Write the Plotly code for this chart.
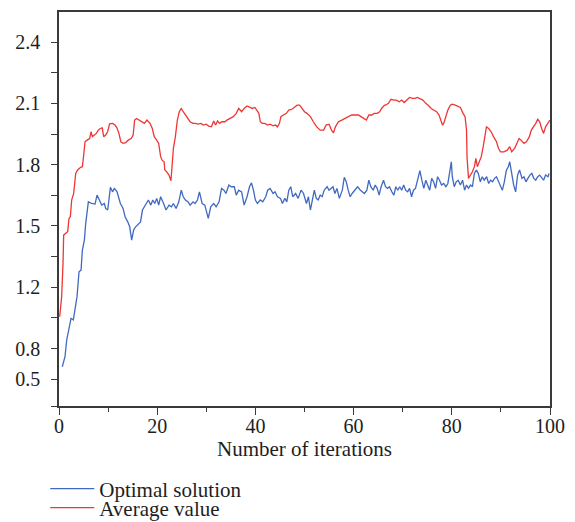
import plotly.graph_objects as go

# ---- data ----
opt_x = [0.67, 1.22, 1.57, 2.04, 2.45, 2.92, 3.4, 3.67, 4.08, 4.49, 4.76, 5.17, 5.44, 5.71, 5.98,
         6.66, 7.34, 7.75, 8.15, 8.7, 9.24, 9.5, 9.92, 10.47, 10.9, 11.28, 11.82, 12.5, 13.05, 13.46,
         14.0, 14.4, 14.8, 15.2, 15.6, 16.0, 16.6, 17.0, 17.2, 17.7, 18.2, 18.7, 19.1, 19.5, 19.9,
         20.3, 20.7, 21.3, 21.8, 22.4, 22.9, 23.3, 23.85, 24.4, 24.9, 25.3, 25.75, 26.3, 26.7, 27.3,
         27.7, 28.2, 28.6, 29.15, 29.7, 30.4, 30.9, 31.5, 32.0, 32.6, 33.1, 33.6, 34.0, 34.6, 35.1,
         35.7, 36.1, 36.6, 37.2, 37.7, 38.3, 38.8, 39.2, 39.6, 40.0, 40.4, 41.0, 41.5, 42.1, 42.5,
         43.0, 43.6, 44.0, 44.5, 45.1, 45.5, 46.0, 46.4, 46.8, 47.2, 47.6, 48.2, 48.7, 49.3, 49.8,
         50.4, 50.8, 51.2, 51.6, 52.0, 52.4, 52.8, 53.2, 53.6, 54.0, 54.6, 55.0, 55.4, 55.8, 56.2,
         56.6, 57.1, 57.7, 58.1, 58.5, 58.9, 59.3, 59.7, 60.3, 60.8, 61.4, 61.8, 62.2, 62.7, 63.1,
         63.5, 64.0, 64.4, 64.8, 65.2, 65.6, 66.1, 66.5, 66.9, 67.3, 67.8, 68.2, 68.6, 69.0, 69.4,
         69.8, 70.2, 70.6, 71.0, 71.4, 71.8, 72.2, 72.6, 73.0, 73.5, 73.9, 74.3, 74.7, 75.1, 75.5,
         75.9, 76.3, 76.7, 77.1, 77.5, 77.9, 78.35, 78.8, 79.2, 79.6, 79.9, 80.1, 80.5, 80.9, 81.3,
         81.75, 82.2, 82.6, 83.0, 83.4, 83.8, 84.2, 84.6, 85.0, 85.4, 85.8, 86.2, 86.6, 87.1, 87.5,
         87.9, 88.3, 88.7, 89.1, 89.5, 89.9, 90.3, 90.7, 91.1, 91.5, 91.8, 92.2, 92.6, 93.0, 93.4,
         93.8, 94.3, 94.7, 95.1, 95.5, 95.9, 96.3, 96.7, 97.1, 97.5, 97.9, 98.3, 98.7, 99.1, 99.6, 99.8]
opt_y = [0.811, 0.860, 0.942, 0.991, 1.048, 1.040, 1.105, 1.154, 1.276, 1.284, 1.382, 1.431, 1.513, 1.578, 1.618,
         1.610, 1.607, 1.651, 1.627, 1.602, 1.610, 1.586, 1.578, 1.689, 1.667, 1.684, 1.667, 1.610, 1.586, 1.545,
         1.520, 1.496, 1.431, 1.480, 1.496, 1.504, 1.520, 1.578, 1.586, 1.602, 1.627, 1.602, 1.627, 1.610, 1.635,
         1.602, 1.643, 1.610, 1.578, 1.602, 1.594, 1.610, 1.586, 1.618, 1.675, 1.643, 1.627, 1.618, 1.602, 1.618,
         1.610, 1.627, 1.667, 1.610, 1.602, 1.537, 1.594, 1.610, 1.594, 1.618, 1.684, 1.675, 1.659, 1.700, 1.692,
         1.692, 1.651, 1.675, 1.667, 1.602, 1.643, 1.692, 1.711, 1.675, 1.627, 1.610, 1.627, 1.618, 1.643, 1.675,
         1.684, 1.659, 1.667, 1.643, 1.635, 1.610, 1.635, 1.618, 1.675, 1.692, 1.643, 1.659, 1.635, 1.675, 1.659,
         1.610, 1.643, 1.578, 1.627, 1.675, 1.635, 1.627, 1.651, 1.643, 1.675, 1.692, 1.675, 1.684, 1.692, 1.659,
         1.684, 1.635, 1.675, 1.738, 1.716, 1.675, 1.643, 1.659, 1.675, 1.692, 1.675, 1.667, 1.659, 1.675, 1.724,
         1.692, 1.675, 1.700, 1.684, 1.651, 1.692, 1.724, 1.692, 1.684, 1.692, 1.667, 1.651, 1.692, 1.675, 1.692,
         1.675, 1.700, 1.675, 1.667, 1.684, 1.643, 1.675, 1.684, 1.724, 1.771, 1.724, 1.684, 1.724, 1.700, 1.675,
         1.733, 1.716, 1.684, 1.741, 1.724, 1.700, 1.708, 1.692, 1.708, 1.782, 1.814, 1.741, 1.692, 1.716, 1.724,
         1.700, 1.724, 1.675, 1.700, 1.684, 1.700, 1.692, 1.757, 1.774, 1.757, 1.716, 1.741, 1.724, 1.741, 1.708,
         1.724, 1.716, 1.733, 1.741, 1.716, 1.692, 1.675, 1.716, 1.771, 1.790, 1.814, 1.757, 1.700, 1.667, 1.749,
         1.774, 1.733, 1.741, 1.716, 1.733, 1.749, 1.757, 1.733, 1.724, 1.741, 1.749, 1.733, 1.724, 1.749, 1.741, 1.757]

avg_x = [0.14, 0.54, 0.82, 0.95, 1.36, 1.77, 2.04, 2.31, 2.58, 2.99, 3.4, 3.8, 4.35, 4.76, 5.03,
         5.3, 5.71, 6.25, 6.52, 6.8, 7.2, 7.6, 8.0, 8.4, 8.8, 9.1, 9.5, 9.9, 10.3, 10.9,
         11.4, 11.8, 12.2, 12.6, 13.05, 13.6, 14.1, 14.7, 15.1, 15.4, 15.8, 16.3, 16.9, 17.4, 17.9,
         18.55, 19.0, 19.4, 19.9, 20.3, 20.7, 21.0, 21.4, 21.55, 21.95, 22.4, 22.8, 23.0, 23.3, 23.7,
         24.1, 24.5, 24.9, 25.3, 25.75, 26.2, 26.7, 27.3, 27.8, 28.3, 28.9, 29.4, 30.0, 30.5, 31.05,
         31.5, 31.9, 32.3, 32.7, 33.2, 33.8, 34.2, 34.9, 35.5, 36.1, 36.6, 37.2, 37.7, 38.3, 38.8,
         39.35, 39.9, 40.3, 40.7, 41.0, 41.4, 41.9, 42.5, 43.0, 43.6, 44.1, 44.5, 44.9, 45.2, 45.7,
         46.3, 46.8, 47.4, 47.9, 48.5, 49.0, 49.5, 50.0, 50.5, 51.2, 51.8, 52.5, 53.2, 53.9, 54.4,
         55.0, 55.5, 55.9, 56.3, 56.9, 57.6, 58.2, 58.9, 59.6, 60.3, 61.0, 61.5, 62.1, 62.6, 63.1,
         63.7, 64.2, 64.8, 65.3, 65.7, 66.3, 66.5, 67.1, 67.6, 68.2, 68.7, 69.3, 69.8, 70.3, 70.9,
         71.4, 72.0, 72.5, 73.0, 73.6, 74.1, 74.7, 75.2, 75.8, 76.3, 76.9, 77.4, 77.8, 78.1, 78.35,
         78.8, 79.2, 79.7, 80.1, 80.7, 81.2, 81.75, 82.3, 82.7, 83.0, 83.1, 83.4, 83.8, 84.2, 84.6,
         84.9, 85.2, 85.6, 86.0, 86.4, 86.8, 87.05, 87.5, 88.0, 88.5, 89.1, 89.5, 89.9, 90.6, 91.3,
         91.8, 92.2, 92.8, 93.3, 93.7, 94.1, 94.7, 95.2, 95.8, 96.2, 96.7, 97.1, 97.5, 97.9, 98.3,
         98.7, 99.1, 99.6, 100.0]
avg_y = [1.056, 1.154, 1.317, 1.455, 1.464, 1.472, 1.537, 1.545, 1.627, 1.659, 1.757, 1.774, 1.786, 1.790, 1.847,
         1.912, 1.920, 1.928, 1.961, 1.937, 1.945, 1.953, 1.969, 1.977, 1.980, 1.937, 1.945, 1.961, 2.000, 2.002,
         1.994, 1.980, 1.953, 1.912, 1.904, 1.908, 1.920, 1.928, 1.945, 2.018, 2.026, 2.018, 2.010, 2.002, 2.018,
         2.002, 1.977, 1.937, 1.920, 1.904, 1.839, 1.822, 1.814, 1.774, 1.765, 1.749, 1.721, 1.790, 1.880, 1.937,
         2.018, 2.059, 2.075, 2.059, 2.043, 2.026, 2.010, 2.002, 2.002, 1.998, 2.002, 1.994, 1.998, 1.988, 1.985,
         2.014, 1.994, 2.014, 2.002, 2.010, 2.010, 2.018, 2.026, 2.035, 2.051, 2.075, 2.059, 2.075, 2.087, 2.080,
         2.075, 2.080, 2.067, 2.051, 2.010, 2.002, 2.002, 1.994, 1.998, 1.990, 1.994, 1.985, 2.002, 2.035, 2.043,
         2.051, 2.067, 2.071, 2.080, 2.091, 2.091, 2.075, 2.059, 2.051, 2.035, 2.010, 1.985, 1.969, 1.969, 1.994,
         1.998, 1.969, 1.956, 1.985, 2.010, 2.018, 2.026, 2.035, 2.043, 2.043, 2.043, 2.035, 2.026, 2.018, 2.043,
         2.043, 2.051, 2.051, 2.059, 2.075, 2.091, 2.091, 2.100, 2.120, 2.116, 2.116, 2.108, 2.116, 2.104, 2.116,
         2.129, 2.124, 2.124, 2.129, 2.124, 2.116, 2.100, 2.091, 2.075, 2.067, 2.059, 2.043, 2.010, 1.994, 2.002,
         2.043, 2.067, 2.091, 2.096, 2.091, 2.087, 2.080, 2.051, 2.035, 1.969, 1.839, 1.733, 1.749, 1.765, 1.790,
         1.831, 1.790, 1.814, 1.839, 1.888, 1.937, 1.985, 1.977, 1.961, 1.937, 1.912, 1.880, 1.863, 1.863, 1.871,
         1.888, 1.863, 1.880, 1.912, 1.928, 1.920, 1.904, 1.912, 1.937, 1.969, 1.985, 2.002, 2.022, 2.010, 1.977,
         1.953, 1.985, 2.002, 2.018]

x_ticks = [0, 20, 40, 60, 80, 100]
x_minor = [10, 30, 50, 70, 90]
y_tickvals = [0.619, 0.75, 0.9, 1.05, 1.2, 1.35, 1.5, 1.65, 1.8, 1.95, 2.1, 2.25, 2.4]
y_ticktext = ["", "0.5", "0.8", "", "1.2", "", "1.5", "", "1.8", "", "2.1", "", "2.4"]

FONT = "Liberation Serif"
FS = 20
FS2 = 21
AXC = "#3a3a3a"
TXT = "#1e1e1e"

fig = go.Figure()
fig.add_trace(go.Scatter(x=opt_x, y=opt_y, mode="lines", name="Optimal solution",
                         line=dict(color="#4169C1", width=1.3), legend="legend"))
fig.add_trace(go.Scatter(x=avg_x, y=avg_y, mode="lines", name="Average value",
                         line=dict(color="#EE3636", width=1.3), legend="legend2"))

leg_common = dict(x=-0.028, xanchor="left", yanchor="middle",
                  bgcolor="rgba(0,0,0,0)", font=dict(family=FONT, size=FS2, color=TXT),
                  itemwidth=44, borderwidth=0)

# page body has an 8px margin, so the figure is sized to fit the 575x522 window
fig.update_layout(
    width=567, height=514,
    margin=dict(l=51, r=25, t=4, b=116, autoexpand=False),
    paper_bgcolor="white", plot_bgcolor="white",
    font=dict(family=FONT, size=FS, color=TXT),
    showlegend=True,
    legend=dict(y=-0.2107, **leg_common),
    legend2=dict(y=-0.2589, **leg_common),
)
fig.update_xaxes(
    range=[0, 100], showgrid=False, zeroline=False, automargin=False,
    showline=True, linecolor=AXC, linewidth=1.5, mirror=True,
    tickmode="array", tickvals=x_ticks, ticks="outside", ticklen=7, tickwidth=1.2, tickcolor=AXC,
    minor=dict(tickmode="array", tickvals=x_minor, ticks="outside", ticklen=4, tickwidth=1.2, tickcolor=AXC),
    tickfont=dict(family=FONT, size=FS, color=TXT),
    ticklabelstandoff=-6,
    title=dict(text="Number of iterations", font=dict(family=FONT, size=FS2, color=TXT), standoff=5),
)
fig.update_yaxes(
    range=[0.619, 2.547], showgrid=False, zeroline=False, automargin=False,
    showline=True, linecolor=AXC, linewidth=1.5, mirror=True,
    tickmode="array", tickvals=y_tickvals, ticktext=y_ticktext,
    ticks="outside", ticklen=6, tickwidth=1.2, tickcolor=AXC,
    tickfont=dict(family=FONT, size=FS, color=TXT),
    ticklabelstandoff=7,
)

fig.write_html("out.html")
